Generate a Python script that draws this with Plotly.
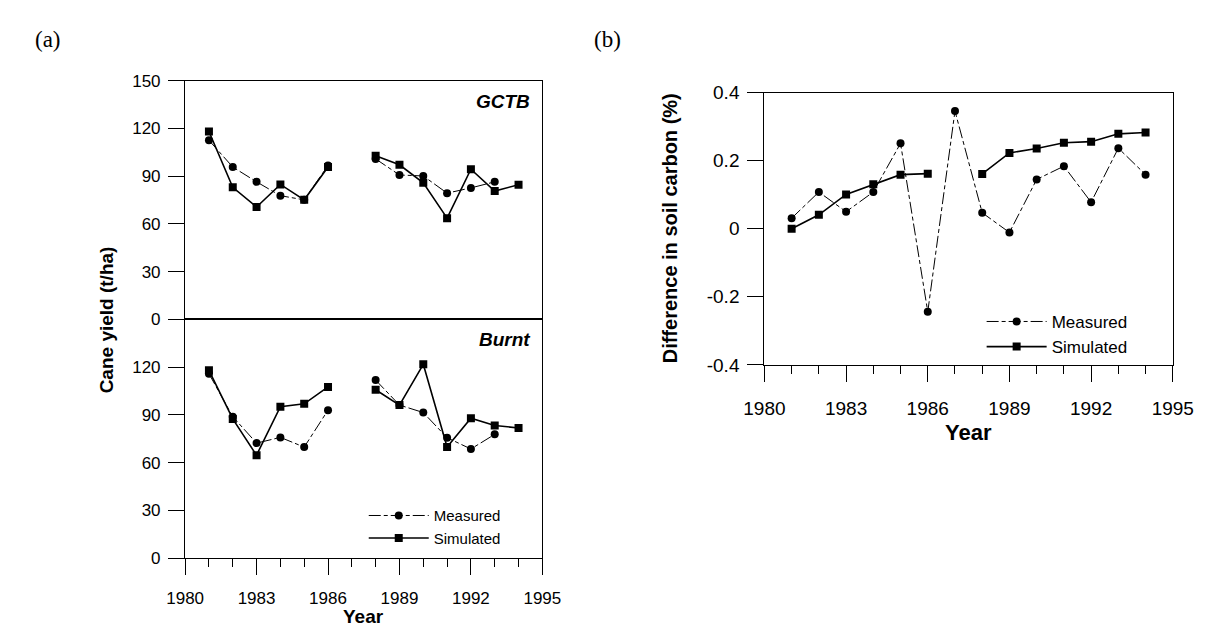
import plotly.graph_objects as go

years = list(range(1981, 1995))

# cane yield (t/ha), None = no value that year
gctb_measured = [112.5, 95.7, 86.4, 77.7, 75.1, 96.7, None, 100.8, 90.7, 90.1, 79.3, 82.6, 86.4, None]
gctb_simulated = [118.0, 83.0, 70.6, 84.8, 75.1, 95.7, None, 102.8, 97.1, 85.8, 63.6, 94.3, 80.6, 84.6]
burnt_measured = [115.9, 88.9, 72.3, 75.9, 69.8, 93.0, None, 111.9, 96.2, 91.5, 75.7, 68.6, 77.8, None]
burnt_simulated = [118.0, 87.5, 64.7, 95.2, 97.0, 107.6, None, 105.8, 96.2, 121.8, 69.8, 87.9, 83.4, 81.8]

# difference in soil carbon (%)
carbon_measured = [0.031, 0.108, 0.050, 0.108, 0.251, -0.244, 0.346, 0.047, -0.011, 0.145, 0.184, 0.078, 0.237, 0.159]
carbon_simulated = [0.0, 0.041, 0.101, 0.131, 0.159, 0.162, None, 0.161, 0.223, 0.236, 0.253, 0.256, 0.279, 0.283]

yield_ticks_top = [0, 30, 60, 90, 120, 150]
yield_ticks_bottom = [0, 30, 60, 90, 120]
carbon_ticks = [-0.4, -0.2, 0, 0.2, 0.4]
carbon_ticktext = ["-0.4", "-0.2", "0", "0.2", "0.4"]

W, H = 1216, 634
FONT = "Liberation Sans, Arial, sans-serif"
SERIF = "Liberation Serif, Times New Roman, serif"
DASH = "12px,3px,4px,3px"


def px(x):
    return x / W


def py(y):
    return (H - y) / H


def measured(x, y, xa, ya, legend=None, show=False):
    return go.Scatter(
        x=x, y=y, xaxis=xa, yaxis=ya, name="Measured", mode="lines+markers",
        line=dict(color="black", width=1, dash=DASH),
        marker=dict(symbol="circle", size=8, color="black"),
        showlegend=show, legend=legend,
    )


def simulated(x, y, xa, ya, legend=None, show=False):
    return go.Scatter(
        x=x, y=y, xaxis=xa, yaxis=ya, name="Simulated", mode="lines+markers",
        line=dict(color="black", width=1.6),
        marker=dict(symbol="square", size=8, color="black"),
        showlegend=show, legend=legend,
    )


fig = go.Figure()
fig.add_trace(measured(years, gctb_measured, "x", "y"))
fig.add_trace(simulated(years, gctb_simulated, "x", "y"))
fig.add_trace(measured(years, burnt_measured, "x2", "y2", "legend", True))
fig.add_trace(simulated(years, burnt_simulated, "x2", "y2", "legend", True))
fig.add_trace(measured(years, carbon_measured, "x3", "y3", "legend2", True))
fig.add_trace(simulated(years, carbon_simulated, "x3", "y3", "legend2", True))

frame = dict(showline=True, mirror=True, linecolor="black", linewidth=1.3,
             showgrid=False, zeroline=False)
left_x = [px(170), px(540)]
right_x = [px(770), px(1193)]

fig.update_layout(
    width=W, height=H, autosize=False,
    margin=dict(l=0, r=0, t=0, b=0),
    plot_bgcolor="white", paper_bgcolor="white",
    font=dict(family=FONT, color="black"),
    xaxis=dict(domain=left_x, range=[1980, 1995], anchor="y",
               showticklabels=False, ticks="", **frame),
    yaxis=dict(domain=[py(320), py(73)], range=[0, 150], anchor="x",
               tickvals=yield_ticks_top, ticks="outside", ticklen=16,
               tickwidth=1.3, tickcolor="black", ticklabelstandoff=4,
               tickfont=dict(size=17), **frame),
    xaxis2=dict(domain=left_x, range=[1980, 1995], anchor="y2",
                dtick=3, tick0=1980, ticks="outside", ticklen=16,
                tickwidth=1.3, tickcolor="black", ticklabelstandoff=8,
                tickfont=dict(size=17),
                minor=dict(dtick=1, tick0=1980, ticks="outside", ticklen=8,
                           tickwidth=1.3, tickcolor="black"),
                **frame),
    yaxis2=dict(domain=[py(567), py(320)], range=[0, 150], anchor="x2",
                tickvals=yield_ticks_bottom, ticks="outside", ticklen=16,
                tickwidth=1.3, tickcolor="black", ticklabelstandoff=4,
                tickfont=dict(size=17), **frame),
    xaxis3=dict(domain=right_x, range=[1980, 1995], anchor="y3",
                dtick=3, tick0=1980, ticks="outside", ticklen=16,
                tickwidth=1.3, tickcolor="black", ticklabelstandoff=10,
                tickfont=dict(size=19),
                minor=dict(dtick=1, tick0=1980, ticks="outside", ticklen=8,
                           tickwidth=1.3, tickcolor="black"),
                **frame),
    yaxis3=dict(domain=[py(367), py(85.5)], range=[-0.4, 0.4], anchor="x3",
                tickvals=carbon_ticks, ticktext=carbon_ticktext,
                ticks="outside", ticklen=16, tickwidth=1.3, tickcolor="black",
                ticklabelstandoff=4, tickfont=dict(size=19), **frame),
    legend=dict(x=px(355), y=py(506), xanchor="left", yanchor="top",
                bgcolor="rgba(0,0,0,0)", font=dict(size=15), tracegroupgap=0,
                itemwidth=60),
    legend2=dict(x=px(995), y=py(304), xanchor="left", yanchor="top",
                 bgcolor="rgba(0,0,0,0)", font=dict(size=17), tracegroupgap=0,
                 itemwidth=60),
)

ann = [
    dict(text="(a)", x=px(28), y=py(31), font=dict(family=SERIF, size=23)),
    dict(text="(b)", x=px(607), y=py(31), font=dict(family=SERIF, size=23)),
    dict(text="<b>Cane yield (t/ha)</b>", x=px(88), y=py(320), textangle=-90, font=dict(size=19)),
    dict(text="<b>Difference in soil carbon (%)</b>", x=px(672), y=py(226), textangle=-90, font=dict(size=20)),
    dict(text="<b>Year</b>", x=px(355), y=py(627), font=dict(size=19)),
    dict(text="<b>Year</b>", x=px(981), y=py(437), font=dict(size=22)),
]
for a in ann:
    fig.add_annotation(xref="paper", yref="paper", showarrow=False,
                       xanchor="center", yanchor="middle", **a)

# panel labels inside the two yield plots
fig.add_annotation(text="<b><i>GCTB</i></b>", xref="x domain", yref="y domain",
                   x=0.97, y=(320 - 95) / 247, xanchor="right", yanchor="middle",
                   showarrow=False, font=dict(size=19))
fig.add_annotation(text="<b><i>Burnt</i></b>", xref="x2 domain", yref="y2 domain",
                   x=0.97, y=(567 - 341) / 247, xanchor="right", yanchor="middle",
                   showarrow=False, font=dict(size=19))

fig.write_html("out.html", config={"displayModeBar": False},
               post_script="document.body.style.margin='0';")
